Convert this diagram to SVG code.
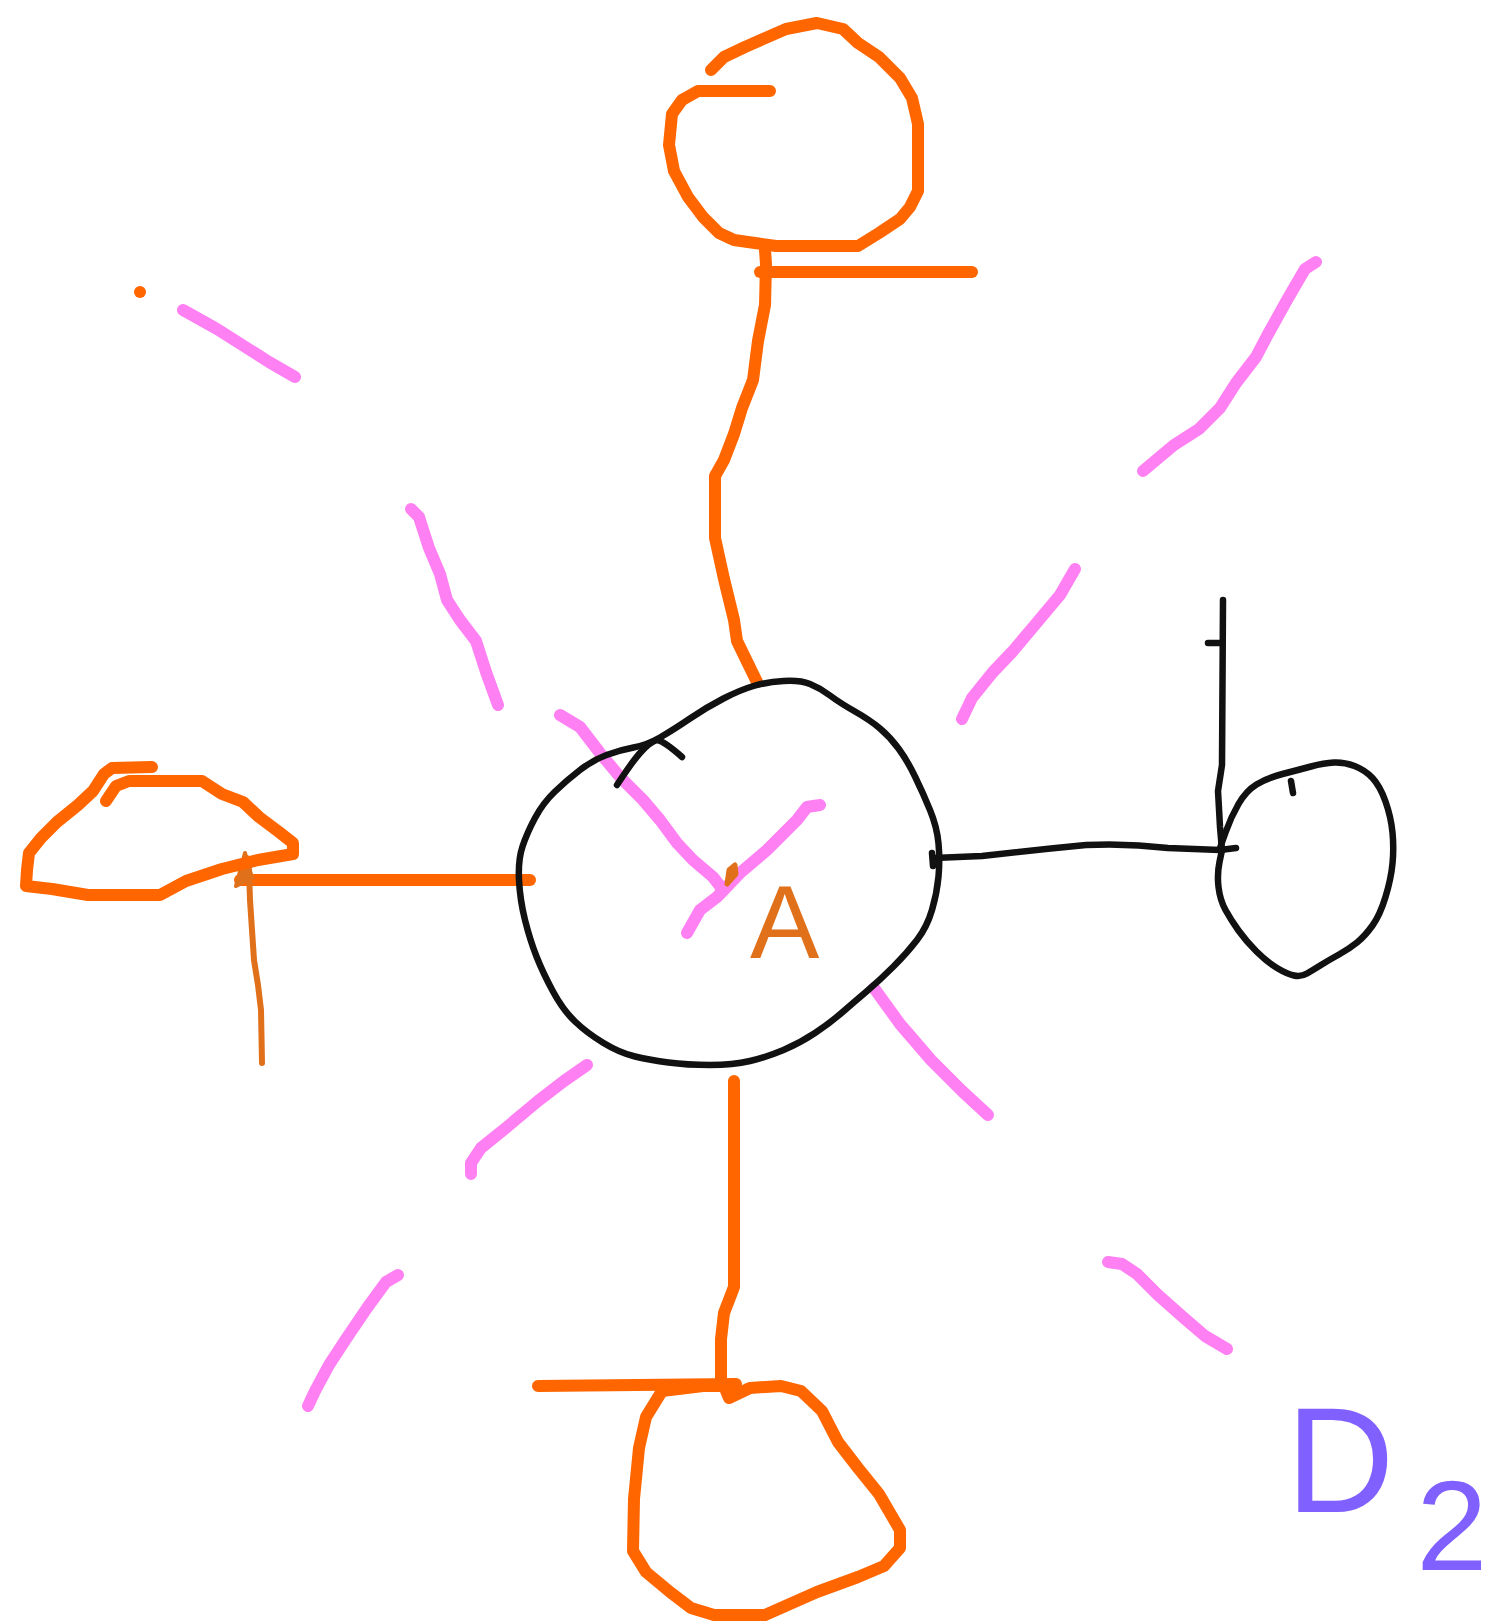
<svg xmlns="http://www.w3.org/2000/svg" width="1492" height="1621" viewBox="0 0 1492 1621">
<style>
.o{fill:none;stroke:#ff6600;stroke-width:12;stroke-linecap:round;stroke-linejoin:round}
.p{fill:none;stroke:#ff80f2;stroke-width:12;stroke-linecap:round;stroke-linejoin:round}
.k{fill:none;stroke:#111;stroke-width:6.5;stroke-linecap:round;stroke-linejoin:round}
.d{fill:none;stroke:#e0701a;stroke-width:6;stroke-linecap:round;stroke-linejoin:round}
.lbl{font-family:"Liberation Sans",Arial,sans-serif}
</style>
<rect width="1492" height="1621" fill="#fff"/>
<g id="rays">
<polyline class="p" points="183,310 217,329 269,362 295,377"/>
<polyline class="p" points="411,509 419,517 429,548 440,574 447,600 460,620 476,641 486,672 498,705"/>
<polyline class="p" points="560,715 580,727 600,753 620,777 643,800 660,820 677,843 693,860 713,877 723,890"/>
<polyline class="p" points="820,805 807,807 797,820 767,850 740,873 717,897 700,910 687,933"/>
<polyline class="p" points="1075,569 1060,595 1034,626 1013,651 993,672 972,698 962,719"/>
<polyline class="p" points="1316,262 1305,269 1287,300 1267,336 1256,357 1236,383 1220,408 1199,429 1174,445 1143,471"/>
<polyline class="p" points="874,988 900,1024 931,1060 962,1091 988,1115"/>
<polyline class="p" points="587,1065 564,1081 538,1101 507,1127 481,1148 471,1163 471,1174"/>
<polyline class="p" points="398,1275 386,1282 367,1308 346,1339 329,1365 315,1391 308,1406"/>
<polyline class="p" points="1108,1262 1122,1264 1137,1274 1158,1295 1184,1318 1205,1336 1227,1349"/>
</g>
<g id="connectors">
<polyline class="o" points="765,250 766,264 765,305 758,341 753,380 742,408 734,434 724,460 715,476 715,538 724,579 734,620 737,641 757,682"/>
<polyline class="o" points="240,880 530,880"/>
<polyline class="o" points="734,1081 734,1287 724,1313 721,1339 721,1386"/>
<path class="k" d="M934,858 L982,856 Q1034,850 1086,845 Q1127,843 1168,848 L1220,850 L1236,848"/>
<line class="k" x1="932" y1="853" x2="933" y2="866"/>
<g id="arrow">
<polyline class="d" points="262,1063 261,1010 258,985 254,960 252,930 250,900 249,870 247,858"/>
<polygon points="236,886 245,853 252,878" fill="#e0701a" stroke="#e0701a" stroke-width="4" stroke-linejoin="round"/>
</g>
</g>
<g id="node-top">
<polyline class="o" points="711,70 724,57 745,47 770,36 786,29 817,23 843,29 858,43 879,57 900,78 912,98 918,124 918,191 910,207 900,219 879,233 858,246 776,246 755,243 734,240 719,233 703,217 688,197 674,171 669,145 672,114 682,100 698,91 770,91"/>
<polyline class="o" points="760,272 972,272"/>
</g>
<g id="node-left">
<polyline class="o" points="152,767 112,768 104,774 93,791 78,805 57,822 41,838 29,853 27,870 26,886 52,889 88,895 160,895 186,881 222,869 258,860 293,854 293,843 279,832 259,817 243,802 222,794 202,781 129,781 116,786 106,801"/>
</g>
<g id="node-a">
<path class="k" d="M606.5,755 Q620,750 633.5,747.5 Q647,745 660,737.5 Q673,730 690,718.5 Q707,707 723.5,698.5 Q740,690 753.5,686 Q767,682 783.5,681 Q800,680 810,684 Q820,688 830,695.5 Q840,703 855,711.5 Q870,720 880,728.5 Q890,737 898.5,748.5 Q907,760 915,776.5 Q923,793 930,810 Q937,827 938.5,843.5 Q940,860 938.5,876.5 Q937,893 932,910 Q927,927 917,940 Q907,953 893.5,966.5 Q880,980 866.5,991.5 Q853,1003 841.5,1013 Q830,1023 815,1033 Q800,1043 783.5,1050 Q767,1057 750,1061 Q733,1065 710,1065 Q687,1065 668.5,1062.5 Q650,1060 635,1056.5 Q620,1053 603.5,1043 Q587,1033 575,1021.5 Q563,1010 553,991.5 Q543,973 536.5,956.5 Q530,940 525,920 Q520,900 519,880 Q518,860 522.5,846.5 Q527,833 535,818 Q543,803 555,791.5 Q567,780 580,770 Q593,760 606.5,755 Z"/>
<path class="k" d="M617,785 Q632,762 640,753 Q650,742 657,740 Q664,741 682,757"/>
<path d="M727,884 L729,870 L735,865 L736,874 Z" fill="#e0701a" stroke="#e0701a" stroke-width="5" stroke-linejoin="round"/>
<text class="lbl" x="750" y="958" font-size="104" fill="#e0701a">A</text>
</g>
<g id="node-right">
<polyline class="k" points="1223,600 1222,765 1218,791 1220,827 1222,850"/>
<line class="k" x1="1208" y1="643" x2="1219" y2="643"/>
<path class="k" d="M1220,848 L1225.5,832.5 Q1231,817 1238.5,804 Q1246,791 1256.5,784.5 Q1267,778 1282.5,774 Q1298,770 1311,766.5 Q1324,763 1334,762.5 Q1344,762 1354.5,766 Q1365,770 1372.5,778 Q1380,786 1385.5,801.5 Q1391,817 1392.5,832.5 Q1394,848 1392.5,863.5 Q1391,879 1385.5,897 Q1380,915 1372.5,925.5 Q1365,936 1357,942.5 Q1349,949 1339,954.5 Q1329,960 1321,965 Q1313,970 1307,973.5 Q1301,977 1294,975.5 Q1287,974 1277,968 Q1267,962 1256.5,951.5 Q1246,941 1238.5,930.5 Q1231,920 1225.5,910 Q1220,900 1218.5,887 Q1217,874 1219.5,862 L1222,850"/>
<line class="k" x1="1291" y1="781" x2="1293" y2="793"/>
</g>
<g id="node-bottom">
<polyline class="o" points="538,1386 736,1384"/>
<polyline class="o" points="662,1391 646,1417 639,1448 634,1499 633,1551 646,1572 670,1592 691,1608 714,1615 765,1615 817,1592 858,1577 884,1566 900,1548 900,1530 879,1494 858,1468 838,1442 822,1411 801,1391 781,1386 750,1388 729,1398 724,1386 703,1386 662,1391"/>
</g>
<circle id="dot" cx="140" cy="292" r="6" fill="#ff6600"/>
<g id="label-d2">
<text class="lbl" x="1286" y="1512" font-size="150" fill="#8060ff">D<tspan font-size="128" dx="22" dy="58">2</tspan></text>
</g>
</svg>
